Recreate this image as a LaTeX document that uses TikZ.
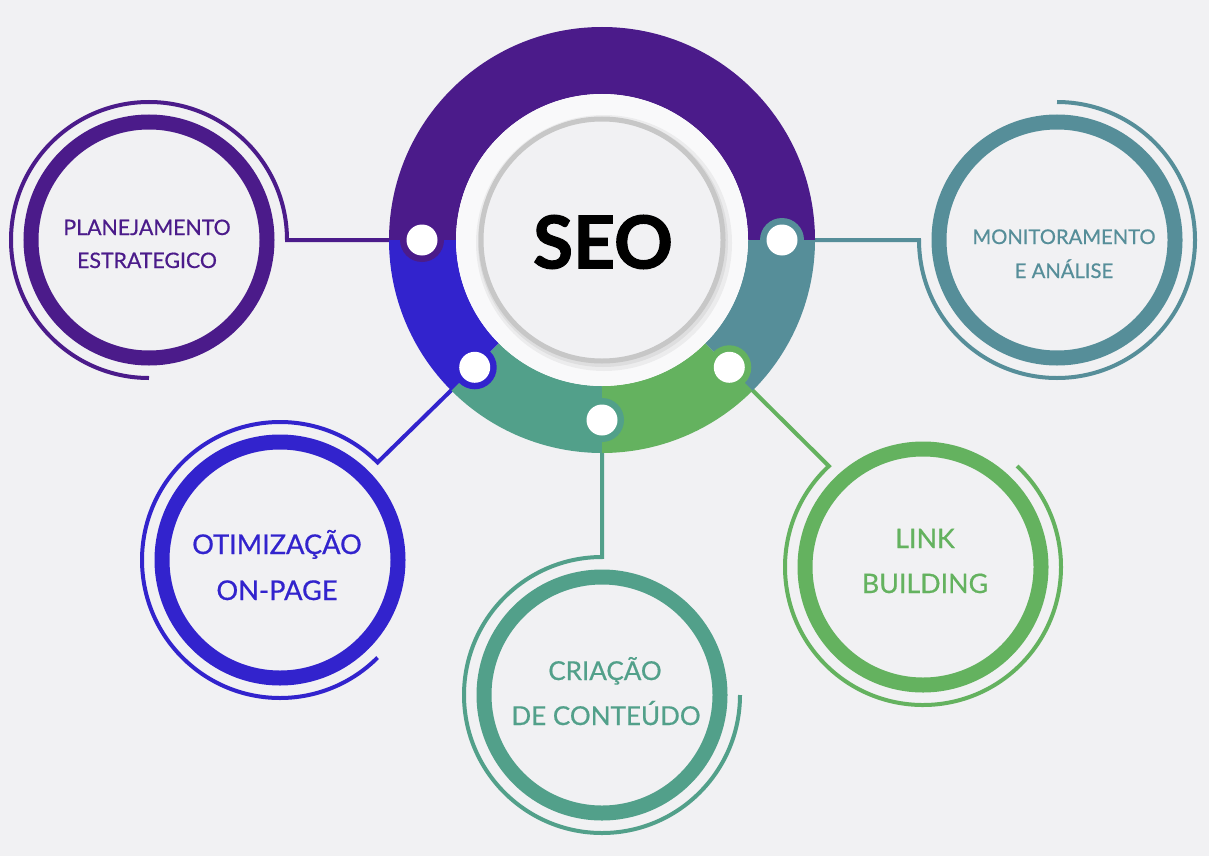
\documentclass[tikz,border=0pt]{standalone}
\usepackage{fontspec}
\usetikzlibrary{calc}
\setmainfont{Lato}
\newfontfamily\seofont[BoldFeatures={FakeBold=1.5}]{Lato}
\newfontfamily\lblfont[FakeBold=0.6]{Lato}
\definecolor{bg}{RGB}{241,241,243}
\definecolor{gap}{RGB}{249,249,250}
\definecolor{cpur}{RGB}{75,27,138}
\definecolor{cblu}{RGB}{50,35,205}
\definecolor{ctea}{RGB}{82,160,138}
\definecolor{cgre}{RGB}{100,178,95}
\definecolor{csla}{RGB}{86,142,153}
\tikzset{
  conn/.style={line width=4},
  thickring/.style={line width=15, fill=bg},
  lbl/.style={anchor=base, inner sep=0pt},
  tab/.style={circle, minimum size=44, inner sep=0pt},
  hole/.style={circle, fill=white, minimum size=31, inner sep=0pt},
}
\begin{document}
\begin{tikzpicture}[x=1pt,y=1pt]
\fill[bg] (0,0) rectangle (1209,-856);
\useasboundingbox (0,0) rectangle (1209,-856);

% centres
\coordinate (C) at (602,-240);
\coordinate (P) at (149,-240);
\coordinate (M) at (1057,-240);
\coordinate (O) at (280,-560);
\coordinate (K) at (602,-695);
\coordinate (L) at (923,-567);

% dots on the ring
\begin{scope}[shift={(C)}]
  \coordinate (dP) at (180:180);
  \coordinate (dO) at (225:180);
  \coordinate (dK) at (270:180);
  \coordinate (dL) at (315:180);
  \coordinate (dM) at (0:180);
\end{scope}
% joints on the thin arcs
\coordinate (jP) at ($(P)+(0:138)$);
\coordinate (jM) at ($(M)+(180:138)$);
\coordinate (jO) at ($(O)+(45:138)$);
\coordinate (jK) at ($(K)+(90:138)$);
\coordinate (jL) at ($(L)+(133:138)$);

% connectors with thin arcs
\draw[conn, cpur] (dP) -- (jP) arc[start angle=0, end angle=270, radius=138];
\draw[conn, csla] (dM) -- (jM) arc[start angle=180, end angle=450, radius=138];
\draw[conn, cblu] (dO) -- (jO) arc[start angle=45, end angle=315, radius=138];
\draw[conn, ctea] (dK) -- (jK) arc[start angle=90, end angle=360, radius=138];
\draw[conn, cgre] (dL) -- (jL) arc[start angle=133, end angle=407, radius=138];

% thick rings
\draw[thickring, draw=cpur] (P) circle[radius=118];
\draw[thickring, draw=csla] (M) circle[radius=118];
\draw[thickring, draw=cblu] (O) circle[radius=118];
\draw[thickring, draw=ctea] (K) circle[radius=118];
\draw[thickring, draw=cgre] (L) circle[radius=118];

% central ring segments
\begin{scope}[shift={(C)}]
  \fill[cpur] (0:213) arc[start angle=0, end angle=180, radius=213] -- (180:146) arc[start angle=180, end angle=0, radius=146] -- cycle;
  \fill[cblu] (180:213) arc[start angle=180, end angle=225, radius=213] -- (225:146) arc[start angle=225, end angle=180, radius=146] -- cycle;
  \fill[ctea] (225:213) arc[start angle=225, end angle=270, radius=213] -- (270:146) arc[start angle=270, end angle=225, radius=146] -- cycle;
  \fill[cgre] (270:213) arc[start angle=270, end angle=315, radius=213] -- (315:146) arc[start angle=315, end angle=270, radius=146] -- cycle;
  \fill[csla] (315:213) arc[start angle=315, end angle=360, radius=213] -- (360:146) arc[start angle=360, end angle=315, radius=146] -- cycle;
  \fill[gap] (0,0) circle[radius=146];
  \fill[black, opacity=0.05] (2,-3) circle[radius=128];
  \fill[black, opacity=0.06] (1,-2) circle[radius=125];
\end{scope}

% tabs and holes
\node[tab, fill=cpur] (tP) at (dP) {};
\node[tab, fill=cblu] (tO) at (dO) {};
\node[tab, fill=ctea] (tK) at (dK) {};
\node[tab, fill=cgre] (tL) at (dL) {};
\node[tab, fill=csla] (tM) at (dM) {};
\node[hole] (hP) at (dP) {};
\node[hole] (hO) at (dO) {};
\node[hole] (hK) at (dK) {};
\node[hole] (hL) at (dL) {};
\node[hole] (hM) at (dM) {};

% SEO centre
\node[circle, draw=black!22, line width=5, fill=bg, minimum size=242, inner sep=0pt] (seo) at (C) {};
\node[inner sep=0pt, font=\seofont\fontsize{73}{73}\selectfont\bfseries] (seotxt) at (603,-242) {SEO};

% labels
\begin{scope}[font=\lblfont\fontsize{21.3}{24}\selectfont, cpur]
  \node[lbl] (p1) at (147,-235) {PLANEJAMENTO};
  \node[lbl] (p2) at (147,-268) {ESTRATEGICO};
\end{scope}
\begin{scope}[font=\lblfont\fontsize{20.2}{24}\selectfont, csla]
  \node[lbl] (m1) at (1064,-244) {MONITORAMENTO};
  \node[lbl] (m2) at (1064,-278) {E ANÁLISE};
\end{scope}
\begin{scope}[font=\lblfont\fontsize{27.2}{30}\selectfont, cblu]
  \node[lbl] (o1) at (277,-554) {OTIMIZAÇÃO};
  \node[lbl] (o2) at (277,-600) {ON-PAGE};
\end{scope}
\begin{scope}[font=\lblfont\fontsize{26}{28}\selectfont, ctea]
  \node[lbl] (k1) at (605,-680) {CRIAÇÃO};
  \node[lbl] (k2) at (606,-725) {DE CONTEÚDO};
\end{scope}
\begin{scope}[font=\lblfont\fontsize{26.8}{28}\selectfont, cgre]
  \node[lbl] (l1) at (925,-548) {LINK};
  \node[lbl] (l2) at (925,-593) {BUILDING};
\end{scope}
\end{tikzpicture}
\end{document}
